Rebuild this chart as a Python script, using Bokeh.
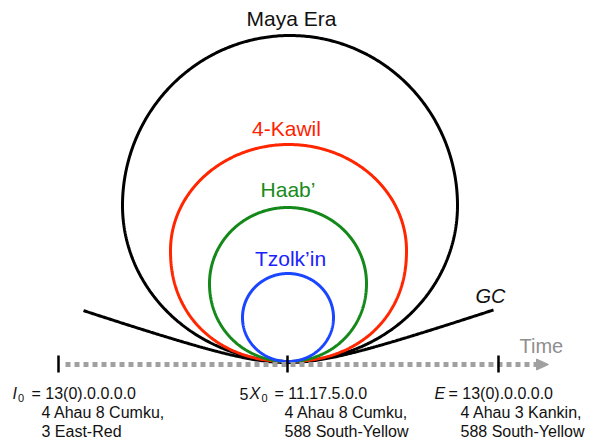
import numpy as np
from bokeh.plotting import figure
from bokeh.models import Range1d, ColumnDataSource
from bokeh.core.properties import value
from bokeh.embed import file_html
from bokeh.resources import INLINE

# ---- data ----
loop_names = ["Maya Era", "4-Kawil", "Haab’", "Tzolk’in"]
loop_colors = ["#000000", "#ff2600", "#14891a", "#1a46ff"]
text_colors = ["#111111", "#ff1f00", "#1a8a1a", "#1a22ff"]
loop_cx = [289.5, 288.0, 287.5, 287.5]
loop_cy = [205.0, 250.0, 283.0, 317.0]
loop_rx = [167.5, 118.0, 78.5, 45.5]
loop_ry_top = [170.0, 106.0, 76.0, 44.0]
loop_ry_bot = [156.0, 111.0, 78.0, 44.0]
loop_n_bot = [2.0, 2.15, 2.05, 2.0]
label_x = [291.0, 286.0, 287.5, 290.0]
label_y = [18.0, 128.0, 189.0, 257.5]

gc_ends = [83.0, 493.0]
gc_touch = (287.0, 362.0)
gc_k, gc_c = 0.34, 60.0

axis_y = 364.0
axis_start, axis_end = 65.0, 537.0
arrow_tip = 548.0
tick_x = [58.0, 287.0, 498.0]

# bottom annotations
pieces_text = ["I", "0", "= 13(0).0.0.0.0", "4 Ahau 8 Cumku,", "3 East-Red",
               "5", "X", "0", "= 11.17.5.0.0", "4 Ahau 8 Cumku,", "588 South-Yellow",
               "E", "= 13(0).0.0.0.0", "4 Ahau 3 Kankin,", "588 South-Yellow"]
pieces_style = ["i", "s", "n", "n", "n",
                "n", "i", "s", "n", "n", "n",
                "i", "n", "n", "n"]
pieces_x = [12, 17.5, 31, 41, 41,
            239, 249, 261, 274, 284, 284,
            434, 448, 460, 460]
pieces_line = [0, 0, 0, 1, 2,
               0, 0, 0, 0, 1, 2,
               0, 0, 1, 2]
line_baselines = [393.0, 412.0, 431.0]

FONT = "Liberation Sans"

p = figure(width=607, height=442, x_range=Range1d(0, 607), y_range=Range1d(442, 0),
           toolbar_location=None, output_backend="svg", min_border=0)
p.axis.visible = False
p.grid.visible = False
p.outline_line_color = None
p.background_fill_color = "white"


def egg(cx, cy, rx, ryt, ryb, n, m=600):
    th = np.linspace(0, 2 * np.pi, m)
    c, s = np.cos(th), np.sin(th)
    xs = np.where(s < 0, cx + rx * c, cx + rx * np.sign(c) * np.abs(c) ** (2.0 / n))
    ys = np.where(s < 0, cy + ryt * s, cy + ryb * np.sign(s) * np.abs(s) ** (2.0 / n))
    return xs, ys

# GC curve
gx = np.linspace(gc_ends[0], gc_ends[1], 300)
dx = gx - gc_touch[0]
gy = gc_touch[1] - gc_k * (np.sqrt(dx ** 2 + gc_c ** 2) - gc_c)
p.line(gx, gy, line_color="black", line_width=3)

for i in range(len(loop_names)):
    xs, ys = egg(loop_cx[i], loop_cy[i], loop_rx[i], loop_ry_top[i], loop_ry_bot[i], loop_n_bot[i])
    p.line(xs, ys, line_color=loop_colors[i], line_width=3)

p.text(x=label_x, y=label_y, text=loop_names, text_color=text_colors,
       text_font=value(FONT), text_font_size="21px", text_align="center",
       text_baseline="alphabetic")

p.text(x=[490], y=[295], text=["GC"], text_color="#111111", text_font=value(FONT),
       text_font_size="20px", text_font_style="italic", text_align="center",
       text_baseline="alphabetic")
p.text(x=[519], y=[345], text=["Time"], text_color="#8e8e8e", text_font=value(FONT),
       text_font_size="20px", text_align="left", text_baseline="alphabetic")

# time axis
p.line([axis_start, axis_end], [axis_y, axis_y], line_color="#a0a0a0", line_width=5,
       line_dash="5 4")
p.patch([axis_end - 1, arrow_tip, axis_end - 1], [axis_y - 5.5, axis_y, axis_y + 5.5],
        fill_color="#a0a0a0", line_color="#a0a0a0")
p.segment(x0=tick_x, y0=[axis_y - 9] * 3, x1=tick_x, y1=[axis_y + 8] * 3,
          line_color="black", line_width=2.5)

# bottom texts
for style, size, dy, fstyle in [("n", "16px", 0, "normal"), ("i", "16px", 0, "italic"),
                                ("s", "11px", 4, "normal")]:
    idx = [k for k in range(len(pieces_text)) if pieces_style[k] == style]
    src = ColumnDataSource(dict(
        x=[pieces_x[k] for k in idx],
        y=[line_baselines[pieces_line[k]] + dy for k in idx],
        t=[pieces_text[k] for k in idx]))
    p.text(x="x", y="y", text="t", source=src, text_color="#111111",
           text_font=value(FONT), text_font_size=size, text_font_style=fstyle,
           text_align="left", text_baseline="alphabetic")

open("out.html", "w").write(file_html(p, INLINE))
